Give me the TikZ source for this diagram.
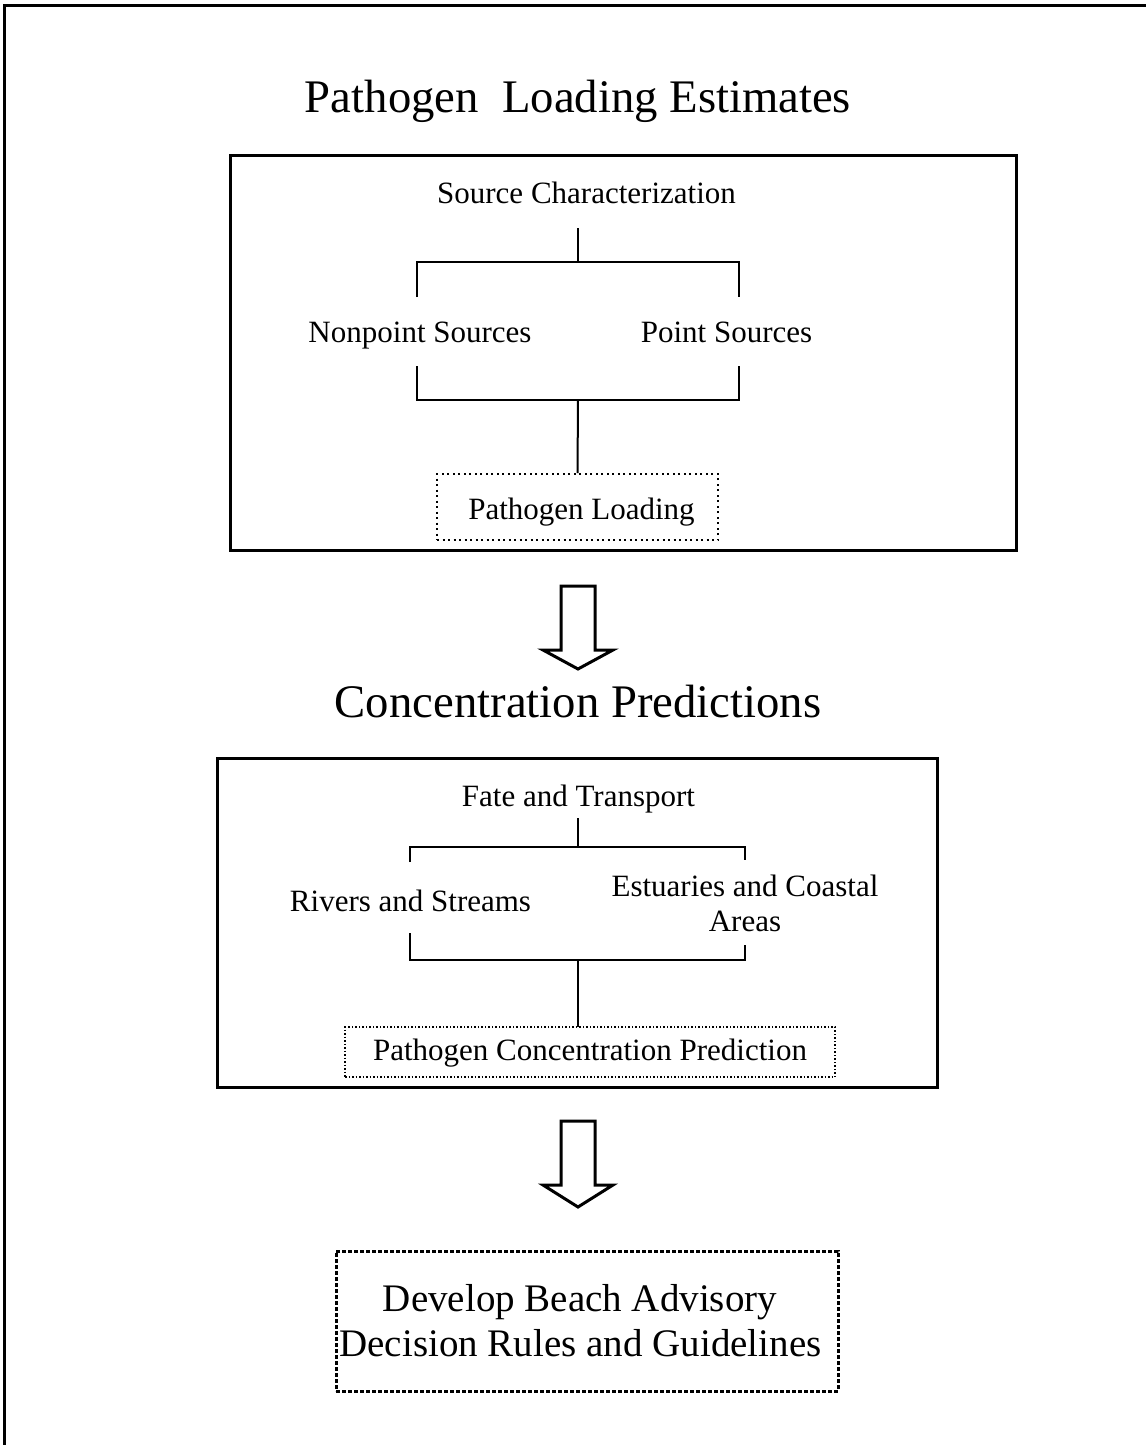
\documentclass[tikz,border=0pt]{standalone}
\usepackage{fontspec}
\setmainfont{Liberation Serif}
\begin{document}
\begin{tikzpicture}[x=1pt,y=-1pt,
  frame/.style={line width=3pt},
  conn/.style={line width=2pt},
  connthin/.style={line width=1.5pt},
  lbl/.style={font=\fontsize{31pt}{35pt}\selectfont, inner sep=0pt, anchor=base},
  ttl/.style={font=\fontsize{46.7pt}{52pt}\selectfont, inner sep=0pt, anchor=base},
  big/.style={font=\fontsize{39pt}{45pt}\selectfont, inner sep=0pt, anchor=base},
  dotboxa/.style={draw, line width=2pt, dash pattern=on 2pt off 3.5pt, inner sep=0pt},
  dotboxb/.style={draw, line width=1.5pt, dash pattern=on 1.5pt off 2pt, inner sep=0pt},
  dotboxc/.style={draw, line width=3pt, dash pattern=on 4pt off 2pt, inner sep=0pt},
  blockarrow/.style={line width=3pt, line join=miter, fill=white}
]
\useasboundingbox (0,0) rectangle (1146,1445);
% outer frame (top and left only)
\draw[frame] (4,1445) -- (4,6) -- (1146,6);

% ---------- Section 1 ----------
\node[ttl] (t1) at (578,112) {Pathogen\ \ Loading Estimates};
\node[draw, frame, minimum width=786pt, minimum height=395pt, inner sep=0pt] (box1) at (623,352.5) {};
\node[lbl] (sc) at (586.5,203) {Source Characterization};
\node[lbl] (nps) at (420,342) {Nonpoint Sources};
\node[lbl] (ps) at (726.5,342) {Point Sources};
\node[dotboxa, minimum width=281pt, minimum height=66pt] (plbox) at (577.5,507) {};
\node[lbl] (pl) at (581.5,519) {Pathogen Loading};

\coordinate (a0) at (578,228);
\coordinate (a1) at (578,262);
\coordinate (al) at (417,262);
\coordinate (ar) at (739,262);
\coordinate (al2) at (417,297);
\coordinate (ar2) at (739,297);
\coordinate (bl2) at (417,366);
\coordinate (br2) at (739,366);
\coordinate (bl) at (417,400);
\coordinate (br) at (739,400);
\coordinate (b1) at (578,400);
\draw[conn] (a0) -- (a1);
\draw[conn] (al2) -- (al) -- (ar) -- (ar2);
\draw[conn] (bl2) -- (bl) -- (br) -- (br2);
\draw[conn] (b1) -- (plbox.north);

% arrow 1
\draw[blockarrow] (561,586) -- (595,586) -- (595,650) -- (613,650) -- (578,669) -- (543,650) -- (561,650) -- cycle;

% ---------- Section 2 ----------
\node[ttl] (t2) at (578,717) {Concentration Predictions};
\node[draw, frame, minimum width=720pt, minimum height=329pt, inner sep=0pt] (box2) at (577,922.5) {};
\node[lbl] (ft) at (578.5,806) {Fate and Transport};
\node[lbl] (rs) at (410.5,911) {Rivers and Streams};
\node[lbl, align=center] (eca) at (745,931) {Estuaries and Coastal\\Areas};
\node[dotboxb, minimum width=490pt, minimum height=50pt] (pcpbox) at (590,1052) {};
\node[lbl] (pcp) at (590,1060) {Pathogen Concentration Prediction};

\coordinate (c0) at (578,818);
\coordinate (c1) at (578,847);
\coordinate (cl) at (410,847);
\coordinate (cr) at (745,847);
\coordinate (cl2) at (410,862);
\coordinate (cr2) at (745,860);
\coordinate (dl2) at (410,933);
\coordinate (dr2) at (745,945);
\coordinate (dl) at (410,960);
\coordinate (dr) at (745,960);
\coordinate (d1) at (578,960);
\draw[connthin] (c0) -- (c1);
\draw[connthin] (cl2) -- (cl) -- (cr) -- (cr2);
\draw[connthin] (dl2) -- (dl) -- (dr) -- (dr2);
\draw[connthin] (d1) -- (578,1027);

% arrow 2
\draw[blockarrow] (561,1121) -- (595,1121) -- (595,1185) -- (613,1185) -- (578,1207) -- (543,1185) -- (561,1185) -- cycle;

% ---------- Section 3 ----------
\node[dotboxc, minimum width=502pt, minimum height=140pt] (dbox) at (587,1321) {};
\node[big] (dv1) at (580,1311) {Develop Beach Advisory};
\node[big] (dv2) at (580.5,1356) {Decision Rules and Guidelines};
\end{tikzpicture}
\end{document}
